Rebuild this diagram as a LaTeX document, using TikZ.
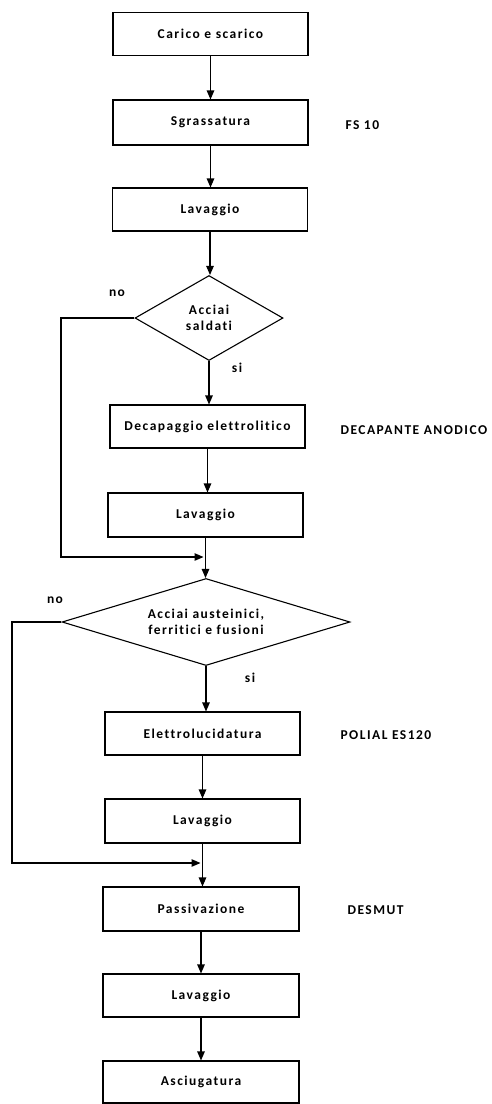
\documentclass[tikz,border=0pt]{standalone}
\usepackage{fontspec}
\setmainfont{Carlito}[LetterSpace=11,Ligatures={NoCommon}]
\usetikzlibrary{arrows.meta,shapes.geometric}
\begin{document}
\begin{tikzpicture}[x=1pt,y=-1pt,
  font=\bfseries\fontsize{13.5}{16}\selectfont,
  line width=1.1pt,
  stepbox/.style={draw,rectangle,minimum width=195pt,minimum height=43pt,inner sep=0pt},
  choice/.style={draw,diamond,shape aspect=3.2,inner sep=0pt,align=center},
  flow/.style={-{Triangle[length=9pt,width=7.5pt]}},
  note/.style={anchor=west,inner sep=0pt},
  tag/.style={inner sep=0pt}]
\useasboundingbox (0,0) rectangle (491,1104);

% process steps
\node[stepbox] (b1) at (210.5,34) {Carico e scarico};
\node[stepbox,minimum height=45pt] (b2) at (210.5,122.5) {Sgrassatura};
\node[stepbox] (b3) at (210,209.5) {Lavaggio};
\node[choice,minimum width=148pt,minimum height=85pt] (d1) at (209,318) {Acciai\\saldati};
\node[stepbox] (b4) at (207.5,426.5) {Decapaggio elettrolitico};
\node[stepbox,minimum height=44pt] (b5) at (205.5,515) {Lavaggio};
\node[choice,minimum width=288pt,minimum height=87pt] (d2) at (206,622) {Acciai austeinici,\\ferritici e fusioni};
\node[stepbox] (b6) at (202.5,733.5) {Elettrolucidatura};
\node[stepbox,minimum height=44pt] (b7) at (202.5,821) {Lavaggio};
\node[stepbox,minimum width=196pt,minimum height=44pt] (b8) at (201,909) {Passivazione};
\node[stepbox,minimum width=196pt] (b9) at (201,995.5) {Lavaggio};
\node[stepbox,minimum width=196pt,minimum height=42pt] (b10) at (201,1082) {Asciugatura};

% products used
\node[note] (p1) at (345,125) {FS 10};
\node[note] (p2) at (340,430) {DECAPANTE ANODICO};
\node[note] (p3) at (340,735) {POLIAL ES120};
\node[note] (p4) at (347,910) {DESMUT};

% branch labels
\node[tag] (n1) at (117,293) {no};
\node[tag] (s1) at (237,368) {si};
\node[tag] (n2) at (55,600) {no};
\node[tag] (s2) at (250,678) {si};

% merge points of the bypass lines
\coordinate (j1) at ([xshift=-2pt]b5.south |- 0,557);
\coordinate (j2) at ([xshift=-2pt]b7.south |- 0,863);

% main flow
\draw[flow] (b1.south) -- (b1.south |- b2.north);
\draw[flow] (b2.south) -- (b2.south |- b3.north);
\draw[flow] (b3.south) -- (b3.south |- d1.north);
\draw[flow] (d1.south) -- (d1.south |- b4.north);
\draw[flow] (b4.south) -- (b4.south |- b5.north);
\draw[flow] (b5.south) -- (b5.south |- d2.north);
\draw[flow] (d2.south) -- (d2.south |- b6.north);
\draw[flow] (b6.south) -- (b6.south |- b7.north);
\draw[flow] (b7.south) -- (b7.south |- b8.north);
\draw[flow] (b8.south) -- (b8.south |- b9.north);
\draw[flow] (b9.south) -- (b9.south |- b10.north);

% bypass branches
\draw[flow] (d1.west) -- (61,318) |- (j1);
\draw[flow] (d2.west) -- (12,622) |- (j2);
\end{tikzpicture}
\end{document}
